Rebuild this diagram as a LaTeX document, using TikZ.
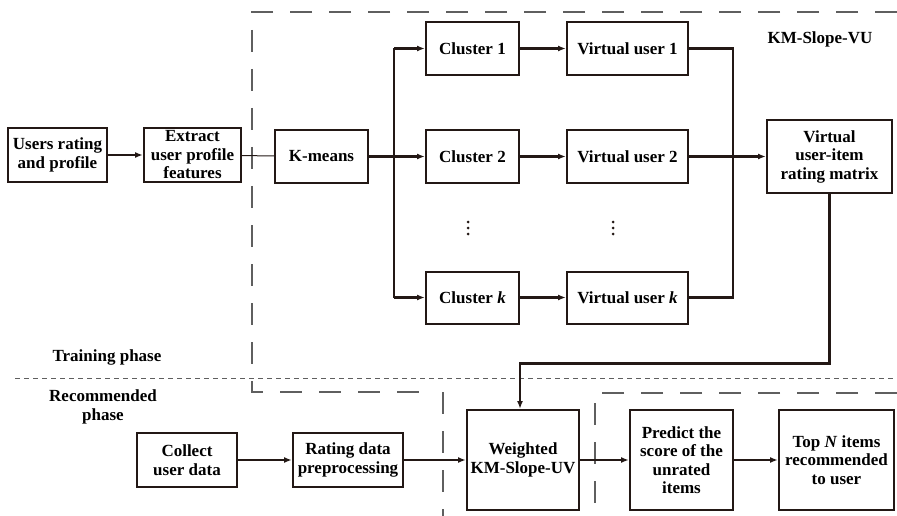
\documentclass[tikz,border=0pt]{standalone}
\usepackage{fontspec}
\setmainfont{Liberation Serif}
\usetikzlibrary{arrows.meta}
\definecolor{ink}{RGB}{35,24,21}
\definecolor{dgray}{RGB}{95,95,95}
\tikzset{
  box/.style={draw=ink, line width=2pt, align=center, inner sep=0pt,
    font=\bfseries\fontsize{17}{18.5}\selectfont},
  lbl/.style={align=center, inner sep=0pt, font=\bfseries\fontsize{17}{19.5}\selectfont},
  thk/.style={draw=ink, line width=2.8pt},
  med/.style={draw=ink, line width=1.8pt},
  thn/.style={draw=ink, line width=1pt},
  arr/.style={-{Latex[length=8pt,width=6pt]}},
  region/.style={draw=dgray, line width=1.2pt, dash pattern=on 22pt off 17pt},
  sepline/.style={draw=dgray, line width=1pt, dash pattern=on 5pt off 4pt},
  vdot/.style={fill=ink},
}
\begin{document}
\begin{tikzpicture}[x=1pt,y=-1pt]
\useasboundingbox (0,0) rectangle (897,516);

% regions
\draw[region] (897,12) -- (252,12) -- (252,392) -- (433,392);
\draw[region] (443,392) -- (443,516);
\draw[region] (897,393) -- (595,393) -- (595,516);
\draw[sepline] (15,378) -- (897,378);

% nodes
\node[box, minimum width=99pt, minimum height=54pt] (ur) at (57.5,155) {Users rating\\and profile};
\node[box, minimum width=97pt, minimum height=54pt] (ex) at (192.5,155) {Extract\\user profile\\features};
\node[box, minimum width=93pt, minimum height=53pt] (km) at (321.5,156.5) {K-means};
\node[box, minimum width=93pt, minimum height=53pt] (c1) at (472.5,48.5) {Cluster 1};
\node[box, minimum width=93pt, minimum height=53pt] (c2) at (472.5,156.5) {Cluster 2};
\node[box, minimum width=93pt, minimum height=52pt] (ck) at (472.5,297.5) {Cluster \textit{k}};
\node[box, minimum width=121pt, minimum height=53pt] (v1) at (627.5,48.5) {Virtual user 1};
\node[box, minimum width=121pt, minimum height=53pt] (v2) at (627.5,156.5) {Virtual user 2};
\node[box, minimum width=121pt, minimum height=52pt] (vk) at (627.5,297.5) {Virtual user \textit{k}};
\node[box, minimum width=125pt, minimum height=72pt] (mat) at (829.5,156.5) {Virtual\\user-item\\rating matrix};
\node[box, minimum width=100pt, minimum height=54pt] (col) at (187,460) {Collect\\user data};
\node[box, minimum width=110pt, minimum height=54pt] (rat) at (348,460) {Rating data\\preprocessing};
\node[box, minimum width=112pt, minimum height=100pt] (wgt) at (523,460) {Weighted\\KM-Slope-UV};
\node[box, minimum width=103pt, minimum height=100pt] (pre) at (681.5,460) {Predict the\\score of the\\unrated\\items};
\node[box, minimum width=115pt, minimum height=100pt] (top) at (836.5,460) {Top \textit{N} items\\recommended\\to user};

% labels
\node[lbl] (kmvu) at (820,39) {KM-Slope-VU};
\node[lbl] (train) at (107,357) {Training phase};
\node[lbl] (rec) at (103,407) {Recommended\\phase};

% vertical ellipses
\foreach \xx in {468,613}{
  \foreach \yy in {222,228,234}{
    \fill[vdot] (\xx,\yy) circle (1.5pt);
  }
}

% connectors
\draw[thk,arr] (ur) -- (ex);
\draw[thn] (ex) -- (km);
\coordinate (br) at (394,156.5);
\coordinate (mg) at (733,156.5);
\draw[thk] (km.east) -- (br);
\draw[thk] (br |- c1) -- (br |- ck);
\draw[thk,arr] (br |- c1) -- (c1);
\draw[thk,arr] (br) -- (c2);
\draw[thk,arr] (br |- ck) -- (ck);
\draw[thk,arr] (c1) -- (v1);
\draw[thk,arr] (c2) -- (v2);
\draw[thk,arr] (ck) -- (vk);
\draw[thk] (v1.east) -- (mg |- v1) -- (mg |- vk) -- (vk.east);
\draw[thk,arr] (v2) -- (mat);
\draw[thk,arr] (mat.south) -- ++(0,170) -| ([xshift=-3pt]wgt.north);
\draw[med,arr] (col) -- (rat);
\draw[med,arr] (rat) -- (wgt);
\draw[thk,arr] (wgt) -- (pre);
\draw[med,arr] (pre) -- (top);
\end{tikzpicture}
\end{document}
